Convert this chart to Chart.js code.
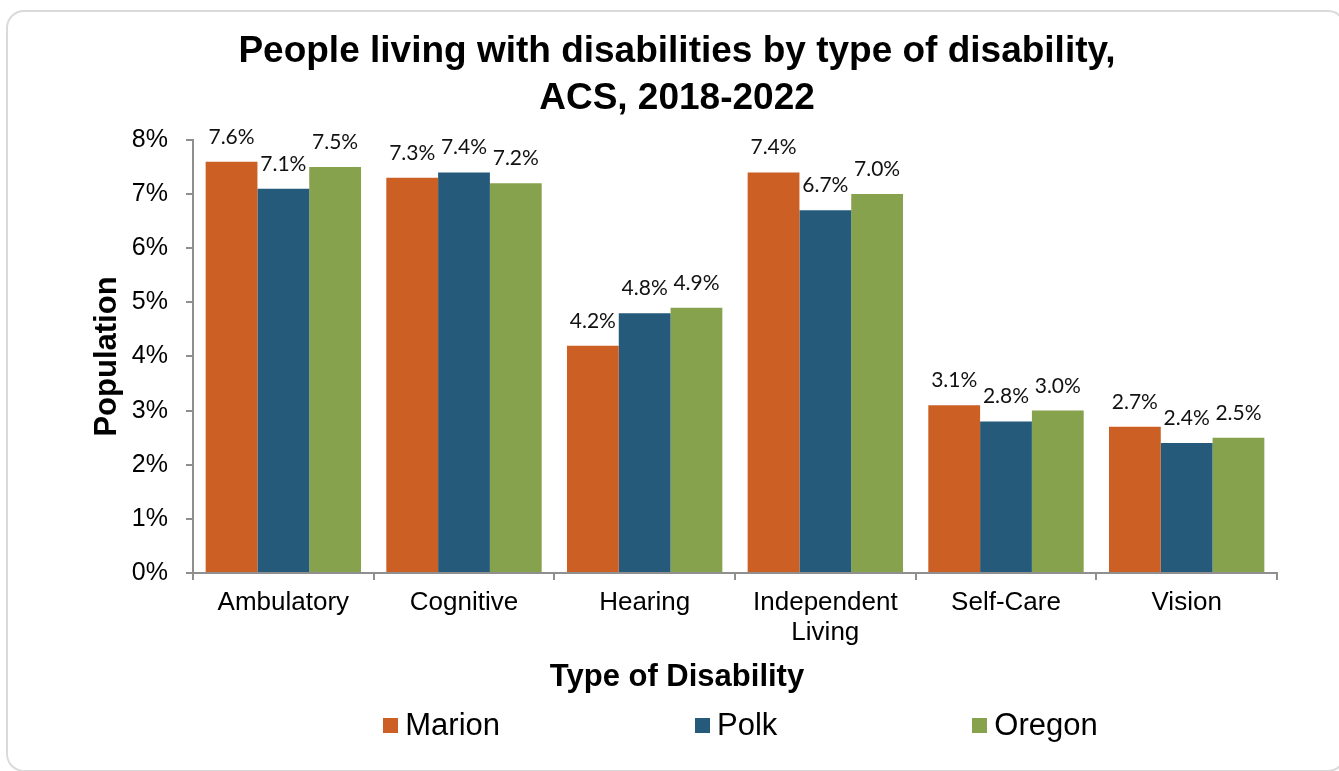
<!DOCTYPE html>
<html>
<head>
<meta charset="utf-8">
<title>People living with disabilities by type of disability</title>
<script src="https://cdn.jsdelivr.net/npm/chart.js@4.4.1/dist/chart.umd.min.js"></script>
<style>
    html, body { margin: 0; padding: 0; background: #fff; }
    body { width: 1339px; height: 771px; position: relative; overflow: hidden; }
    .carte {
        position: absolute; left: 6px; top: 10px; width: 1340px; height: 762px;
        border: 2px solid #dadada; border-radius: 18px; box-sizing: border-box;
    }
    #chartWrap { position: absolute; left: 0; top: 0; width: 1339px; height: 771px; }
    #legende {
        position: absolute; left: 193px; width: 1095px; top: 705px; height: 40px;
        display: flex; justify-content: center; align-items: center; gap: 195px;
        font-family: 'Liberation Sans', Arial, sans-serif; font-size: 31px; color: #000;
    }
    #legende .item { display: flex; align-items: center; white-space: nowrap; }
    #legende .box { width: 15px; height: 15px; margin-right: 7px; }
</style>
</head>
<body>
<div class="carte"></div>
<div id="chartWrap"><canvas id="chartDisab"></canvas></div>
<div id="legende"></div>

<script>
'use strict';

/* ── Données (ACS 2018-2022) ── */
var CATEGORIES = ['Ambulatory', 'Cognitive', 'Hearing', ['Independent', 'Living'], 'Self-Care', 'Vision'];
var MARION = [7.6, 7.3, 4.2, 7.4, 3.1, 2.7];
var POLK   = [7.1, 7.4, 4.8, 6.7, 2.8, 2.4];
var OREGON = [7.5, 7.2, 4.9, 7.0, 3.0, 2.5];
var SERIES = ['Marion', 'Polk', 'Oregon'];
var Y_TICKS = [0, 1, 2, 3, 4, 5, 6, 7, 8];

/* ── Couleurs ── */
var COULEURS = ['#cb5f24', '#255a7b', '#87a24d'];
var AXE = '#8f8f8f';

Chart.defaults.font.family = "'Liberation Sans', Arial, sans-serif";
Chart.defaults.color = '#000';

/* Étiquettes de valeur au-dessus des barres */
var valeursPlugin = {
    id: 'valeurs',
    afterDatasetsDraw: function (chart) {
        var ctx = chart.ctx;
        ctx.save();
        ctx.font = "21px Lato, 'Open Sans', sans-serif";
        ctx.fillStyle = '#111';
        ctx.textAlign = 'center';
        ctx.textBaseline = 'alphabetic';
        chart.data.datasets.forEach(function (ds, i) {
            chart.getDatasetMeta(i).data.forEach(function (bar, j) {
                ctx.fillText(ds.data[j].toFixed(1) + '%', bar.x, bar.y - 18);
            });
        });
        ctx.restore();
    }
};

/* Légende HTML (carrés + libellés) */
var legendeHtml = {
    id: 'legendeHtml',
    afterUpdate: function (chart) {
        var el = document.getElementById('legende');
        el.innerHTML = chart.data.datasets.map(function (ds) {
            return '<div class="item"><span class="box" style="background:' + ds.backgroundColor + '"></span>'
                + ds.label + '</div>';
        }).join('');
    }
};

var datasets = [MARION, POLK, OREGON].map(function (vals, i) {
    return {
        label: SERIES[i],
        data: vals,
        backgroundColor: COULEURS[i],
        borderWidth: 0,
        categoryPercentage: 0.86,
        barPercentage: 1.0
    };
});

new Chart(document.getElementById('chartDisab'), {
    type: 'bar',
    data: { labels: CATEGORIES, datasets: datasets },
    plugins: [valeursPlugin, legendeHtml],
    options: {
        responsive: true,
        maintainAspectRatio: false,
        animation: false,
        layout: { padding: { left: 77, right: 62, top: 0, bottom: 75 } },
        scales: {
            x: {
                grid: { display: true, offset: true, drawOnChartArea: false, drawTicks: true, tickLength: 7, color: AXE, lineWidth: 2 },
                border: { display: true, color: AXE, width: 2 },
                ticks: { font: { size: 26, lineHeight: 1.15 }, padding: 8, maxRotation: 0, color: '#000' }
            },
            y: {
                min: 0,
                max: 8,
                afterBuildTicks: function (s) {
                    s.ticks = Y_TICKS.map(function (v) { return { value: v }; });
                },
                afterFit: function (s) { s.width = 116; },
                grid: { display: true, drawOnChartArea: false, drawTicks: true, tickLength: 7, color: AXE, lineWidth: 2 },
                border: { display: true, color: AXE, width: 2 },
                ticks: {
                    font: { size: 25 },
                    padding: 18,
                    color: '#000',
                    callback: function (v) { return v + '%'; }
                },
                title: {
                    display: true,
                    text: 'Population',
                    font: { size: 31, weight: 'bold', lineHeight: 1.2 },
                    padding: { top: 12, bottom: 0 },
                    color: '#000'
                }
            }
        },
        plugins: {
            legend: { display: false },
            tooltip: { enabled: false },
            title: {
                display: true,
                text: ['People living with disabilities by type of disability,', 'ACS, 2018-2022'],
                font: { size: 37, weight: 'bold', lineHeight: 1.27 },
                padding: { top: 28, bottom: 18 },
                color: '#000'
            },
            subtitle: {
                display: true,
                position: 'bottom',
                text: 'Type of Disability',
                font: { size: 31, weight: 'bold', lineHeight: 1.2 },
                padding: { top: 3, bottom: 0 },
                color: '#000'
            }
        }
    }
});
</script>
</body>
</html>
